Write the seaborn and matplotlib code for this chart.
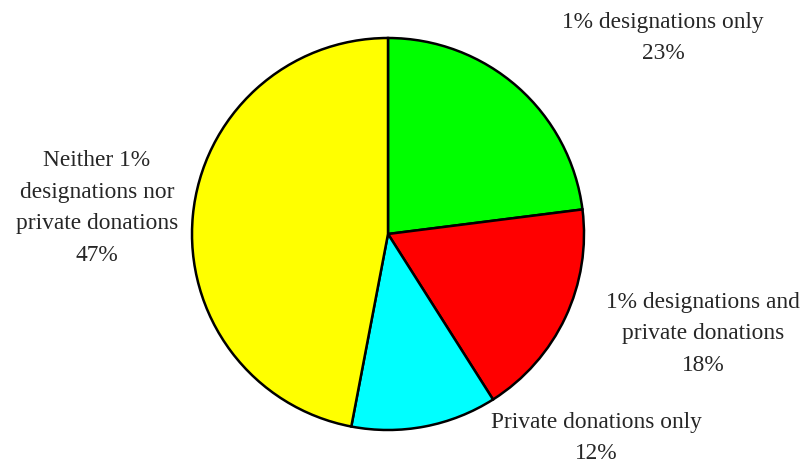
import matplotlib.pyplot as plt
import seaborn as sns

# slice data, clockwise from the top
categories = ['1% designations only',
              '1% designations and\nprivate donations',
              'Private donations only',
              'Neither 1%\ndesignations nor\nprivate donations']
shares = [23, 18, 12, 47]
colors = ['#00ff00', '#ff0000', '#00ffff', '#ffff00']

# label anchor points in pixel coords (x, y from top)
label_pos = [(663, 38), (703, 334), (596, 438), (97, 208)]

sns.set_style('white')
plt.rcParams['font.family'] = ['Liberation Serif', 'DejaVu Serif']

W, H = 803, 465
fig = plt.figure(figsize=(W / 100, H / 100), dpi=100)
ax = fig.add_axes([0, 0, 1, 1])
ax.set_xlim(0, W)
ax.set_ylim(0, H)
ax.set_aspect('equal')
ax.axis('off')

ax.pie(shares, colors=colors, startangle=90, counterclock=False,
       center=(388, H - 234), radius=196,
       wedgeprops={'edgecolor': 'black', 'linewidth': 1.8})
ax.set_xlim(0, W)
ax.set_ylim(0, H)

for cat, val, (px, py) in zip(categories, shares, label_pos):
    ax.text(px, H - py, f'{cat}\n{val}%', ha='center', va='center',
            multialignment='center', fontsize=16.8, linespacing=1.66)

fig.savefig('out.png', dpi=100, facecolor='white')
